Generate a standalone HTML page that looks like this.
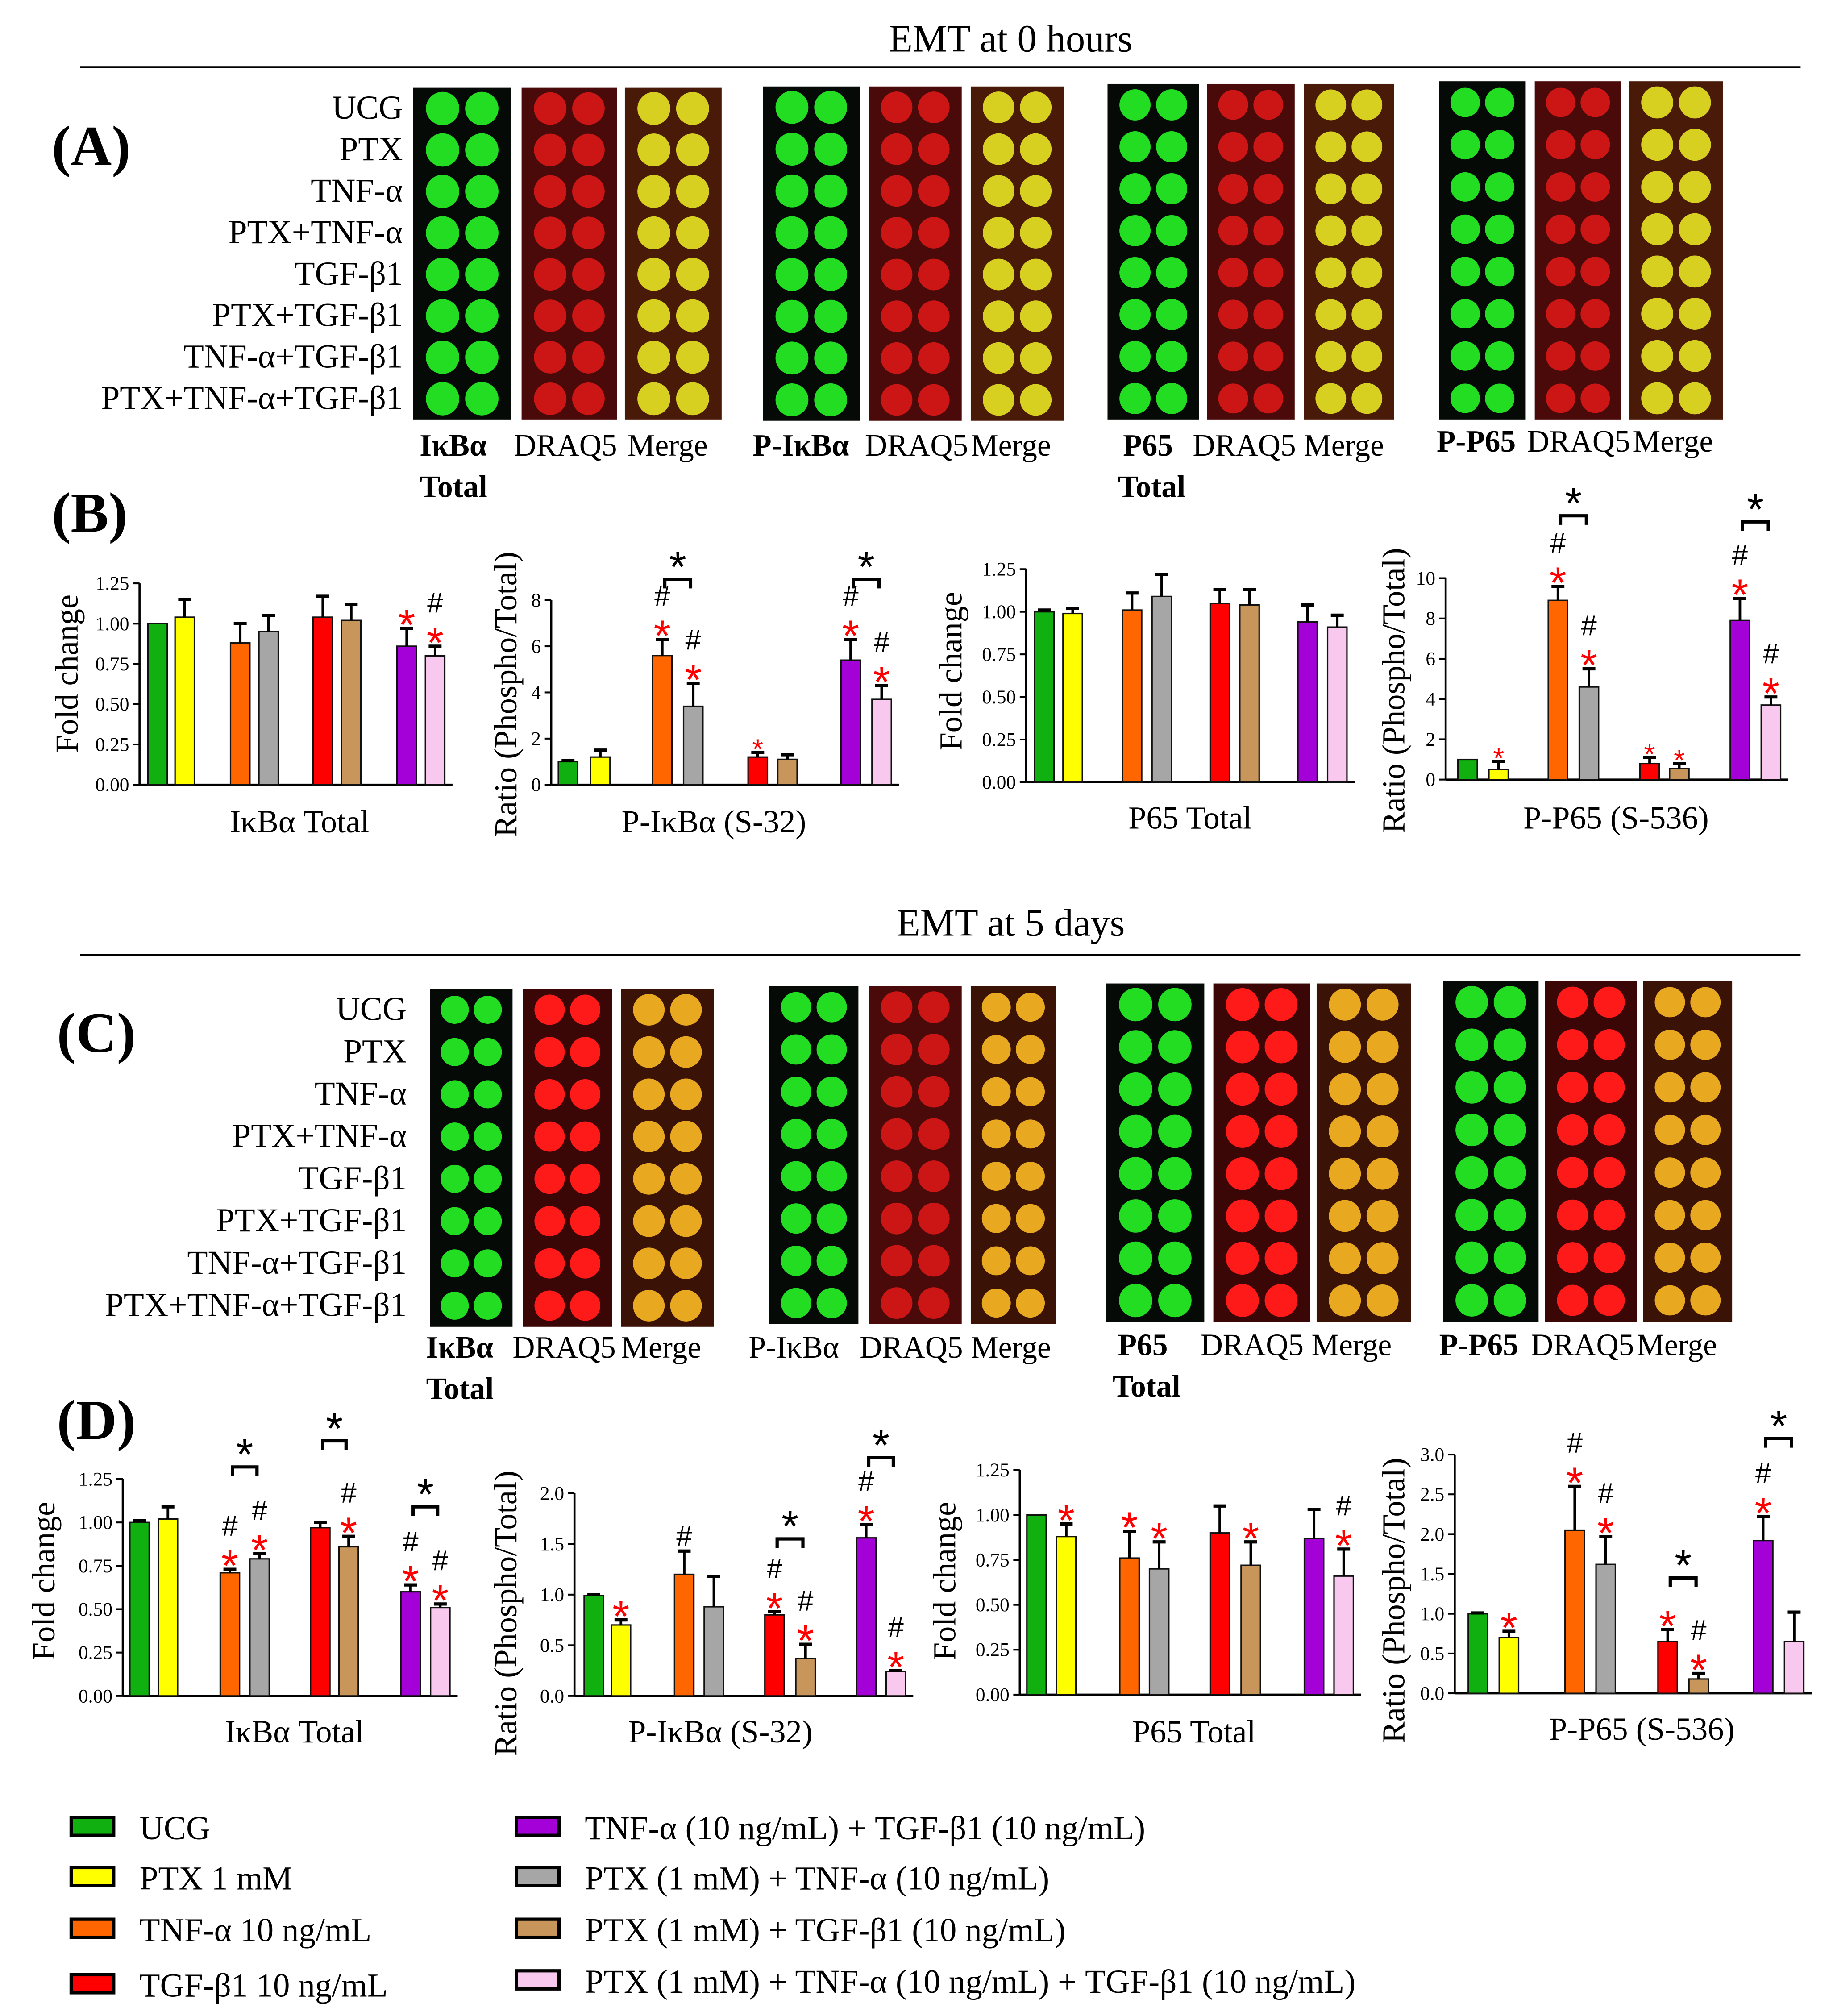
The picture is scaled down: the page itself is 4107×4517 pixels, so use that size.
<!DOCTYPE html>
<html><head><meta charset="utf-8">
<style>
html,body{margin:0;padding:0;background:#fff;}
svg{display:block;font-family:"Liberation Serif",serif;}
</style></head>
<body>
<svg id="fig" width="4107" height="4517" viewBox="0 0 1420 1562" xmlns="http://www.w3.org/2000/svg">
<rect width="1420" height="1562" fill="#fff"/>
<g id="static">
<text x="783" y="40" font-size="30" text-anchor="middle">EMT at 0 hours</text>
<line x1="62" y1="52" x2="1395" y2="52" stroke="#000" stroke-width="1.5"/>
<text x="40" y="128" font-size="44" font-weight="bold">(A)</text>
<text x="40" y="412" font-size="44" font-weight="bold">(B)</text>
<text x="783" y="725" font-size="30" text-anchor="middle">EMT at 5 days</text>
<line x1="62" y1="740" x2="1395" y2="740" stroke="#000" stroke-width="1.5"/>
<text x="44" y="815" font-size="44" font-weight="bold">(C)</text>
<text x="44" y="1115" font-size="44" font-weight="bold">(D)</text>
</g>
<g id="blots"></g>
<g id="charts"></g>
<g id="legend"></g>
</svg>
<script>
const NS='http://www.w3.org/2000/svg';
const svg=document.getElementById('fig');
function mk(tag,attrs,parent,txt){const e=document.createElementNS(NS,tag);for(const k in attrs)e.setAttribute(k,attrs[k]);if(txt!==undefined)e.textContent=txt;parent.appendChild(e);return e;}

// ---- data ----
// bar order: UCG, PTX, TNF, PTX+TNF, TGF, PTX+TGF, TNF+TGF, PTX+TNF+TGF
const groups=['UCG','PTX 1 mM','TNF-α 10 ng/mL','PTX (1 mM) + TNF-α (10 ng/mL)','TGF-β1 10 ng/mL','PTX (1 mM) + TGF-β1 (10 ng/mL)','TNF-α (10 ng/mL) + TGF-β1 (10 ng/mL)','PTX (1 mM) + TNF-α (10 ng/mL) + TGF-β1 (10 ng/mL)'];
const rowLabels=['UCG','PTX','TNF-α','PTX+TNF-α','TGF-β1','PTX+TGF-β1','TNF-α+TGF-β1','PTX+TNF-α+TGF-β1'];
const barColors=['#10b010','#ffff00','#ff6600','#a6a6a6','#ff0000','#c8955a','#a400d8','#f8c8ef'];

const b1Values=[1.0,1.04,0.88,0.95,1.04,1.02,0.86,0.80];
const b1Errors=[0.0,0.11,0.12,0.10,0.13,0.10,0.11,0.06];
const b1Ticks=['0.00','0.25','0.50','0.75','1.00','1.25'];
const b1Marks=['','','','','','','*','#*'];
const b2Values=[1.0,1.2,5.6,3.4,1.2,1.1,5.4,3.7];
const b2Errors=[0.05,0.3,0.7,1.0,0.2,0.2,0.9,0.6];
const b2Ticks=['0','2','4','6','8'];
const b2Marks=['','','#*','#*','s','','#*','#*'];
const b3Values=[1.0,0.99,1.01,1.09,1.05,1.04,0.94,0.91];
const b3Errors=[0.01,0.03,0.10,0.13,0.08,0.09,0.10,0.07];
const b3Ticks=['0.00','0.25','0.50','0.75','1.00','1.25'];
const b3Marks=['','','','','','','',''];
const b4Values=[1.0,0.5,8.9,4.6,0.8,0.55,7.9,3.7];
const b4Errors=[0.0,0.4,0.7,0.9,0.3,0.25,1.1,0.4];
const b4Ticks=['0','2','4','6','8','10'];
const b4Marks=['','s','#*','#*','s','s','#*','#*'];

const d1Values=[1.0,1.02,0.71,0.79,0.97,0.86,0.60,0.51];
const d1Errors=[0.01,0.07,0.02,0.03,0.03,0.06,0.04,0.02];
const d1Marks=['','','#*','#*','','#*','#*','#*'];
const d2Values=[0.99,0.70,1.20,0.88,0.80,0.37,1.56,0.24];
const d2Errors=[0.01,0.05,0.23,0.30,0.03,0.14,0.13,0.01];
const d2Ticks=['0.0','0.5','1.0','1.5','2.0'];
const d2Marks=['','*','#','','#*','#*','#*','#*'];
const d3Values=[1.0,0.88,0.76,0.70,0.90,0.72,0.87,0.66];
const d3Errors=[0.0,0.07,0.15,0.15,0.15,0.13,0.16,0.15];
const d3Marks=['','*','*','*','','*','','#*'];
const d4Values=[1.0,0.70,2.05,1.62,0.65,0.18,1.92,0.65];
const d4Errors=[0.01,0.08,0.55,0.35,0.15,0.07,0.30,0.37];
const d4Ticks=['0.0','0.5','1.0','1.5','2.0','2.5','3.0'];
const d4Marks=['','*','#*','#*','*','#*','#*',''];

const charts=[
 {id:'b1',vals:b1Values,err:b1Errors,ticks:b1Ticks,marks:b1Marks,max:1.25,ax:108,y0:608,yt:452,xs:[122,143,186,208,250,272,315,337],yt_title:'Fold change',tx:60,tyc:522,xl:'IκBα Total',xlx:232,xly:645,br:[]},
 {id:'b2',vals:b2Values,err:b2Errors,ticks:b2Ticks,marks:b2Marks,max:8,ax:427,y0:608,yt:465,xs:[440,465,513,537,587,610,659,683],yt_title:'Ratio (Phospho/Total)',tx:400,tyc:538,xl:'P-IκBα (S-32)',xlx:553,xly:645,br:[[2,3,8.9],[6,7,8.9]]},
 {id:'b3',vals:b3Values,err:b3Errors,ticks:b3Ticks,marks:b3Marks,max:1.25,ax:795,y0:606,yt:441,xs:[809,831,877,900,945,968,1013,1036],yt_title:'Fold change',tx:745,tyc:520,xl:'P65 Total',xlx:922,xly:642,br:[]},
 {id:'b4',vals:b4Values,err:b4Errors,ticks:b4Ticks,marks:b4Marks,max:10,ax:1120,y0:604,yt:448,xs:[1137,1161,1207,1231,1278,1301,1348,1372],yt_title:'Ratio (Phospho/Total)',tx:1088,tyc:535,xl:'P-P65 (S-536)',xlx:1252,xly:642,br:[[2,3,13.1],[6,7,12.8]]},
 {id:'d1',vals:d1Values,err:d1Errors,ticks:b1Ticks,marks:d1Marks,max:1.25,ax:95,y0:1314,yt:1146,xs:[108,130,178,201,248,270,318,341],yt_title:'Fold change',tx:42,tyc:1225,xl:'IκBα Total',xlx:228,xly:1350,br:[[2,3,1.32],[4,5,1.47],[6,7,1.09]]},
 {id:'d2',vals:d2Values,err:d2Errors,ticks:d2Ticks,marks:d2Marks,max:2.0,ax:445,y0:1314,yt:1157,xs:[460,481,530,553,600,624,671,694],yt_title:'Ratio (Phospho/Total)',tx:400,tyc:1250,xl:'P-IκBα (S-32)',xlx:558,xly:1350,br:[[4,5,1.55],[6,7,2.35]]},
 {id:'d3',vals:d3Values,err:d3Errors,ticks:b3Ticks,marks:d3Marks,max:1.25,ax:790,y0:1313,yt:1139,xs:[803,826,875,898,945,969,1018,1041],yt_title:'Fold change',tx:740,tyc:1225,xl:'P65 Total',xlx:925,xly:1350,br:[]},
 {id:'d4',vals:d4Values,err:d4Errors,ticks:d4Ticks,marks:d4Marks,max:3.0,ax:1127,y0:1312,yt:1127,xs:[1145,1169,1220,1244,1292,1316,1366,1390],yt_title:'Ratio (Phospho/Total)',tx:1088,tyc:1240,xl:'P-P65 (S-536)',xlx:1272,xly:1348,br:[[4,5,1.45],[6,7,3.2]]}
];

const cg=document.getElementById('charts');
charts.forEach(c=>{
  const g=mk('g',{},cg);
  
  
  const ys=v=>c.y0-(v/c.max)*(c.y0-c.yt);
  const bw=15;
  mk('line',{x1:c.ax,y1:c.y0,x2:c.ax,y2:c.yt,stroke:'#000','stroke-width':1.6},g);
  mk('line',{x1:c.ax,y1:c.y0,x2:c.xs[7]+bw/2+6,y2:c.y0,stroke:'#000','stroke-width':1.6},g);
  c.ticks.forEach((t,i)=>{
    const v=parseFloat(t);
    const y=ys(v);
    mk('line',{x1:c.ax-5,y1:y,x2:c.ax,y2:y,stroke:'#000','stroke-width':1.4},g);
    const tl=mk('text',{x:c.ax-8,y:y+5,'font-size':15,'text-anchor':'end'},g,t);
    
    
  });
  const yt=mk('text',{x:0,y:0,'font-size':25,'text-anchor':'middle',transform:`translate(${c.tx},${c.tyc}) rotate(-90)`},g,c.yt_title);
  
  
  const xl=mk('text',{x:c.xlx,y:c.xly,'font-size':25,'text-anchor':'middle'},g,c.xl);
  
  
  c.vals.forEach((v,i)=>{
    const x=c.xs[i]-bw/2, y=ys(v);
    const b=mk('rect',{x:x,y:y,width:bw,height:c.y0-y,fill:barColors[i],stroke:'#111','stroke-width':1.1},g);
    
    
    const ye=ys(v+c.err[i]);
    if(c.err[i]>0){
      mk('line',{x1:c.xs[i],y1:y,x2:c.xs[i],y2:ye,stroke:'#000','stroke-width':2},g);
      mk('line',{x1:c.xs[i]-5,y1:ye,x2:c.xs[i]+5,y2:ye,stroke:'#000','stroke-width':2.5},g);
    }
    let cy=ye-4;
    const s=c.marks[i];
    for(let k=s.length-1;k>=0;k--){
      const ch=s[k];
      if(ch==='*'){const t=mk('text',{x:c.xs[i],y:cy+13,'font-size':34,fill:'#ff0000','text-anchor':'middle','font-family':'Liberation Sans, sans-serif'},g,'*');cy-=22;}
      else if(ch==='s'){const t=mk('text',{x:c.xs[i],y:cy+9,'font-size':22,fill:'#ff0000','text-anchor':'middle','font-family':'Liberation Sans, sans-serif'},g,'*');cy-=14;}
      else if(ch==='#'){const t=mk('text',{x:c.xs[i],y:cy,'font-size':22,fill:'#000','text-anchor':'middle','font-family':'Liberation Sans, sans-serif'},g,'#');cy-=20;}
    }
  });
  c.br.forEach(br=>{
    const y=ys(br[2]);
    const x1=c.xs[br[0]]+2,x2=c.xs[br[1]]-2;
    const p=mk('path',{d:`M${x1},${y+7}V${y}H${x2}V${y+7}`,fill:'none',stroke:'#000','stroke-width':2.5},g);
    
    
    const t=mk('text',{x:(x1+x2)/2,y:y+2,'font-size':34,'text-anchor':'middle','font-family':'Liberation Sans, sans-serif'},g,'*');
    
    
  });
});

// ---- blots ----
const bg=document.getElementById('blots');
const blotSets=[
 {top:68,bot:325,labX:312,panels:[[320,396,'g'],[404,478,'r'],[484,559,'m']],lab:{y:353,items:[[325,'IκBα',1],[398,'DRAQ5',0],[486,'Merge',0],[325,'Total',1,'t']]}},
 {top:67,bot:326,panels:[[591,666,'g'],[673,745,'r'],[752,824,'m']],lab:{y:353,items:[[583,'P-IκBα',1],[670,'DRAQ5',0],[752,'Merge',0]]}},
 {top:65,bot:325,panels:[[858,929,'g'],[935,1003,'r'],[1010,1080,'m']],lab:{y:353,items:[[870,'P65',1],[924,'DRAQ5',0],[1010,'Merge',0],[866,'Total',1,'t']]}},
 {top:63,bot:325,panels:[[1115,1182,'g'],[1189,1256,'r'],[1262,1335,'m']],lab:{y:350,items:[[1113,'P-P65',1],[1183,'DRAQ5',0],[1265,'Merge',0]]}},
 {top:766,bot:1028,labX:315,panels:[[333,397,'g'],[405,474,'r2'],[481,553,'m2']],lab:{y:1052,items:[[330,'IκBα',1],[397,'DRAQ5',0],[481,'Merge',0],[330,'Total',1,'t']]}},
 {top:764,bot:1026,panels:[[596,665,'g'],[673,745,'r'],[752,818,'m2']],lab:{y:1052,items:[[580,'P-IκBα',0],[666,'DRAQ5',0],[752,'Merge',0]]}},
 {top:762,bot:1024,panels:[[857,933,'g'],[940,1015,'r2'],[1020,1093,'m2']],lab:{y:1050,items:[[866,'P65',1],[930,'DRAQ5',0],[1016,'Merge',0],[862,'Total',1,'t']]}},
 {top:760,bot:1024,panels:[[1118,1192,'g'],[1197,1268,'r2'],[1273,1342,'m2']],lab:{y:1050,items:[[1115,'P-P65',1],[1186,'DRAQ5',0],[1268,'Merge',0]]}}
];
const pal={g:['#060a06','#22dd22'],r:['#4a0a0a','#cc1515'],r2:['#3a0606','#ff1a1a'],m:['#4a1a08','#d8d020'],m2:['#3a1206','#e8a820']};
blotSets.forEach((s,si)=>{
  s.panels.forEach(p=>{
    const g=mk('g',{},bg);
    
    
    const [x1,x2,k]=p;const w=x2-x1;
    mk('rect',{x:x1,y:s.top,width:w,height:s.bot-s.top,fill:pal[k][0]},g);
    const step=(s.bot-s.top)/8;const r=Math.min(w*0.17,13);
    for(let i=0;i<8;i++)for(let j=0;j<2;j++){
      mk('circle',{cx:x1+w*(j?0.7:0.3),cy:s.top+step*(i+0.5),r:r,fill:pal[k][1]},g);
    }
  });
  if(s.labX){
    const step=(s.bot-s.top)/8;
    rowLabels.forEach((l,i)=>{
      const t=mk('text',{x:s.labX,y:s.top+step*(i+0.5)+8,'font-size':26,'text-anchor':'end'},bg,l);
      
      
    });
  }
  s.lab.items.forEach(it=>{
    const t=mk('text',{x:it[0],y:it[3]?s.lab.y+32:s.lab.y,'font-size':24,'font-weight':it[2]?'bold':'normal'},bg,it[1]);
    
    
  });
});

// ---- legend ----
const lg=document.getElementById('legend');
const legPos=[[55,1416],[55,1455],[55,1495],[55,1538],[400,1416],[400,1455],[400,1495],[400,1535]];
const legColorIdx=[0,1,2,4,6,3,5,7];
legPos.forEach((p,i)=>{
  const g=mk('g',{},lg);
  
  
  mk('rect',{x:p[0],y:p[1]-8,width:33,height:14,fill:barColors[legColorIdx[i]],stroke:'#000','stroke-width':2.5},g);
  mk('text',{x:p[0]+53,y:p[1]+9,'font-size':26},g,groups[legColorIdx[i]]);
});
</script>
</body></html>
